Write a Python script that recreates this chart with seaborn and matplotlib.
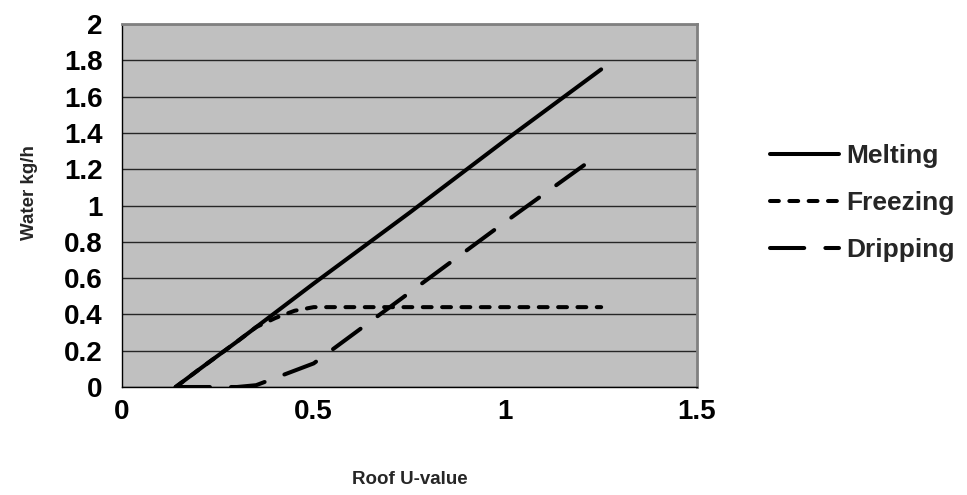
import matplotlib
matplotlib.use("Agg")
import matplotlib.pyplot as plt
import seaborn as sns
import pandas as pd
from matplotlib.lines import Line2D

# Roof U-value samples and water flows (kg/h) for each process
u_value = [0.14, 0.2, 0.3, 0.35, 0.4, 0.45, 0.5, 0.75, 1.0, 1.25]
melting = [0.0, 0.095, 0.25, 0.33, 0.41, 0.49, 0.57, 0.96, 1.36, 1.75]
freezing = [0.0, 0.095, 0.25, 0.33, 0.38, 0.42, 0.44, 0.44, 0.44, 0.44]
dripping = [0.0, 0.0, 0.0, 0.01, 0.05, 0.09, 0.13, 0.52, 0.91, 1.29]
series_names = ["Melting", "Freezing", "Dripping"]

x_ticks = [0, 0.5, 1, 1.5]
y_ticks = [0, 0.2, 0.4, 0.6, 0.8, 1, 1.2, 1.4, 1.6, 1.8, 2]
y_tick_labels = ["0", "0.2", "0.4", "0.6", "0.8", "1", "1.2", "1.4", "1.6", "1.8", "2"]
x_tick_labels = ["0", "0.5", "1", "1.5"]

df = pd.DataFrame({
    "u": u_value * 3,
    "water": melting + freezing + dripping,
    "series": sum([[n] * len(u_value) for n in series_names], []),
})

sns.set_theme(style="white")
plt.rcParams["font.family"] = ["Liberation Sans", "DejaVu Sans"]
plt.rcParams["font.weight"] = "bold"

fig = plt.figure(figsize=(9.67, 4.95), dpi=100)
ax = fig.add_axes([122 / 967, 1 - 387 / 495, (697 - 122) / 967, (387 - 24) / 495])
ax.set_facecolor("#c0c0c0")

lw = 2.9
dash_map = {"Melting": "", "Freezing": (2.2, 2.6), "Dripping": (8.5, 5.25)}
sns.lineplot(data=df, x="u", y="water", style="series", style_order=series_names,
             dashes=dash_map, color="black", linewidth=lw, ax=ax, legend=False,
             sort=False, zorder=3)
for ln in ax.get_lines():
    ln.set_dash_capstyle("round")
    ln.set_solid_capstyle("round")
    ln.set_solid_joinstyle("round")

ax.set_xlim(0, 1.5)
ax.set_ylim(0, 2)
ax.set_xticks(x_ticks)
ax.set_xticklabels(x_tick_labels)
ax.set_yticks(y_ticks)
ax.set_yticklabels(y_tick_labels)
ax.tick_params(axis="both", labelsize=20, colors="black", direction="out")
ax.tick_params(axis="x", length=5.5, width=1, pad=3)
ax.tick_params(axis="y", length=4, width=1, pad=10)
ax.yaxis.grid(True, color="#262626", linewidth=1.0)
ax.xaxis.grid(False)
ax.set_axisbelow(True)

for side in ("left", "bottom"):
    ax.spines[side].set_color("black")
    ax.spines[side].set_linewidth(1.0)
for side in ("top", "right"):
    ax.spines[side].set_color("#808080")
    ax.spines[side].set_linewidth(2.0)

ax.set_xlabel("Roof U-value", fontsize=13.5, fontweight="bold")
ax.set_ylabel("Water kg/h", fontsize=13.5, fontweight="bold")
ax.xaxis.set_label_coords(0.5, (387 - 480) / 363, transform=ax.transAxes)
ax.yaxis.set_label_coords((30 - 122) / 575, (387 - 193) / 363, transform=ax.transAxes)
ax.xaxis.label.set_va("center")
ax.yaxis.label.set_va("center")

handles = []
for name in series_names:
    h = Line2D([], [], color="black", linewidth=lw,
               dash_capstyle="round", solid_capstyle="round")
    if dash_map[name]:
        h.set_dashes(dash_map[name])
    handles.append(h)
fig.legend(handles, series_names, loc="center left", bbox_to_anchor=(770 / 967, 1 - 203 / 495),
           frameon=False, fontsize=19, handlelength=2.6, handletextpad=0.3,
           labelspacing=0.88, borderpad=0, borderaxespad=0)

fig.savefig("out.png", dpi=100, facecolor="white")
